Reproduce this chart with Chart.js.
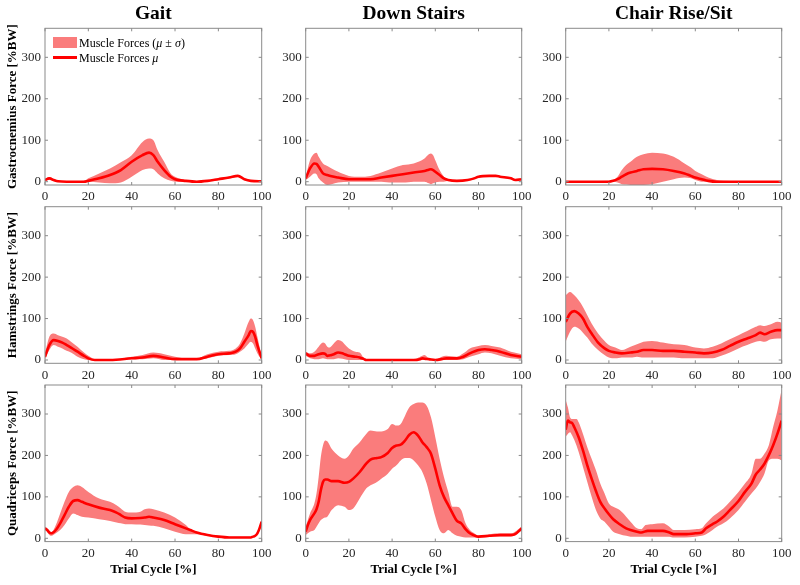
<!DOCTYPE html>
<html><head><meta charset="utf-8">
<script src="https://cdn.jsdelivr.net/npm/chart.js@4.4.1/dist/chart.umd.min.js"></script>
<style>
html,body{margin:0;padding:0;background:#fff;}
#wrap{position:relative;width:800px;height:585px;overflow:hidden;background:#fff;}
#wrap canvas{position:absolute;left:0;top:0;}
.lg{position:absolute;font-family:'Liberation Serif','Times New Roman',serif;font-size:12px;color:#000;white-space:nowrap;line-height:14px;}
.sw{position:absolute;}
</style></head><body>
<div id="wrap">
  <div class="sw" id="lgPatch"></div>
  <div class="sw" id="lgLine"></div>
  <div class="lg" id="lgText1">Muscle Forces (<i>μ</i> ± <i>σ</i>)</div>
  <div class="lg" id="lgText2">Muscle Forces <i>μ</i></div>
</div>
<script>
// ---------- labels ----------
const activities = ['Gait', 'Down Stairs', 'Chair Rise/Sit'];
const muscleLabels = ['Gastrocnemius Force [%BW]', 'Hamstrings Force [%BW]', 'Quadriceps Force [%BW]'];
const xAxisLabel = 'Trial Cycle [%]';
const legendBand = 'Muscle Forces (μ ± σ)';
const legendMean = 'Muscle Forces μ';
const yTickValues = [0, 100, 200, 300];
const xTickValues = [0, 20, 40, 60, 80, 100];

// ---------- Gait / Gastrocnemius ----------
const gaitGastroMeanX = [0,2,4,6,10,15,18,20,25,30,35,40,45,48,50,52,55,58,60,65,70,75,80,85,89,92,95,100];
const gaitGastroMean  = [4,8,4,1,0,0,0,2,8,16,28,48,64,70,64,48,28,12,6,2,0,2,6,10,14,6,2,1];
const gaitGastroBandX = [0,2,4,6,10,15,18,20,25,30,35,40,45,48,50,52,55,58,60,65,70,75,80,85,89,92,95,100];
const gaitGastroUpper = [6,11,7,2,1,1,2,8,20,32,47,64,96,104,100,76,48,20,12,4,1,3,8,12,16,8,3,2];
const gaitGastroLower = [2,5,1,0,-1,-1,-1,0,-2,-4,-2,12,28,32,30,20,8,2,0,0,-1,1,4,8,12,4,1,0];

// ---------- Gait / Hamstrings ----------
const gaitHamMeanX = [0,2,4,6,8,10,12,15,18,20,23,30,40,45,50,55,60,65,70,75,80,85,88,90,92,94,95,96,97,98,100];
const gaitHamMean  = [8,36,48,46,42,36,30,20,10,4,0,0,4,6,10,6,2,2,2,8,14,16,20,28,44,60,70,68,56,36,4];
const gaitHamBandX = [0,2,4,6,8,10,12,15,18,20,23,30,40,45,50,55,60,65,70,75,80,85,88,90,92,94,95,96,97,98,100];
const gaitHamUpper = [16,56,64,60,56,52,44,32,18,10,2,1,8,12,18,14,8,4,4,14,20,22,28,40,64,92,100,96,80,56,8];
const gaitHamLower = [2,24,36,32,28,22,18,8,2,0,-1,-1,2,2,4,0,0,0,0,4,10,12,14,20,28,40,44,40,28,16,0];

// ---------- Gait / Quadriceps ----------
const gaitQuadMeanX = [0,1,2,3,5,7,9,11,13,15,17,20,25,30,33,35,37,40,44,46,48,50,55,60,65,67,70,75,80,85,90,95,96,97,98,99,100];
const gaitQuadMean  = [24,20,14,12,20,36,56,76,90,92,88,82,74,68,62,56,50,48,49,50,52,50,44,34,24,20,14,8,4,2,2,2,4,6,12,24,40];
const gaitQuadBandX = [0,1,2,3,5,7,9,11,13,15,17,20,25,30,33,35,37,40,44,46,48,50,55,60,65,67,70,75,80,85,90,95,96,97,98,99,100];
const gaitQuadUpper = [28,24,18,15,32,60,88,112,124,128,124,112,96,88,80,72,64,62,64,70,72,70,62,50,32,22,16,10,6,4,4,4,6,8,16,30,44];
const gaitQuadLower = [20,16,8,6,12,20,32,48,60,56,52,50,46,42,38,36,34,34,33,32,31,30,24,16,10,10,10,6,2,1,1,1,2,4,8,18,36];

// ---------- Down Stairs / Gastrocnemius ----------
const stairsGastroMeanX = [0,2,4,5,6,8,10,12,15,20,25,30,35,40,45,50,55,57,58,59,60,62,64,66,70,75,78,80,85,88,90,95,97,100];
const stairsGastroMean  = [8,32,44,43,36,20,16,13,10,6,6,6,10,14,18,22,26,29,30,28,24,16,8,4,2,4,8,12,14,14,12,8,4,6];
const stairsGastroBandX = [0,2,4,5,6,8,10,12,15,20,25,30,35,40,45,50,55,57,58,59,60,62,64,66,70,75,78,80,85,88,90,95,97,100];
const stairsGastroUpper = [12,52,68,70,60,44,38,32,24,14,12,14,22,32,40,44,56,66,68,64,52,28,12,6,4,6,10,14,16,16,14,10,6,8];
const stairsGastroLower = [4,12,20,18,8,-2,-8,-6,-2,0,0,0,0,-2,-2,0,0,-4,-6,-4,-2,0,0,2,0,2,6,10,12,12,10,6,2,4];

// ---------- Down Stairs / Hamstrings ----------
const stairsHamMeanX = [0,2,4,6,8,9,10,11,12,13,15,17,18,20,23,25,27,28,30,50,53,54,55,57,60,63,65,70,73,76,80,83,86,90,95,100];
const stairsHamMean  = [16,10,10,14,16,15,10,11,12,14,18,16,14,10,8,6,2,0,0,0,2,4,3,2,0,2,4,4,8,16,24,26,24,20,12,8];
const stairsHamBandX = [0,2,4,6,8,9,10,11,12,13,15,17,18,20,23,25,27,28,30,50,53,54,55,57,60,63,65,70,73,76,80,83,86,90,95,100];
const stairsHamUpper = [20,16,20,32,42,40,32,30,34,40,48,44,38,28,20,18,4,1,1,1,8,10,12,4,1,8,10,8,16,28,34,36,34,30,20,14];
const stairsHamLower = [10,4,2,2,4,3,2,2,2,2,4,3,2,0,0,0,0,-1,-1,-1,0,0,0,0,-1,0,0,0,2,8,14,18,16,10,4,2];

// ---------- Down Stairs / Quadriceps ----------
const stairsQuadMeanX = [0,1,2,4,5,6,7,8,9,10,12,15,18,20,22,25,28,30,33,35,38,40,42,44,46,48,50,52,54,56,58,60,62,64,66,68,70,72,74,76,78,80,85,90,95,97,100];
const stairsQuadMean  = [16,32,44,60,70,88,116,136,142,142,138,138,134,136,144,160,180,190,194,196,206,218,224,226,236,250,256,248,232,220,204,168,128,100,80,60,42,36,22,12,7,4,6,8,8,10,24];
const stairsQuadBandX = [0,2,4,5,6,7,8,9,10,12,15,18,20,22,25,28,30,33,35,38,40,42,44,46,48,50,52,54,56,58,60,62,64,66,68,70,72,74,76,78,80,85,90,95,100];
const stairsQuadUpper = [28,60,84,108,148,196,224,236,234,216,200,192,200,216,232,252,260,258,258,264,276,272,276,296,316,324,328,328,320,292,244,192,148,112,76,76,68,36,20,12,6,10,12,12,28];
const stairsQuadLower = [8,16,20,28,36,44,48,50,52,68,80,76,68,72,96,120,128,136,144,156,168,176,188,194,194,188,176,160,132,92,52,20,12,20,12,6,4,2,2,2,2,4,4,4,18];

// ---------- Chair / Gastrocnemius ----------
const chairGastroMeanX = [0,10,20,22,24,26,28,30,33,36,40,45,50,55,58,60,63,66,70,73,80,90,100];
const chairGastroMean  = [0,0,0,2,6,12,18,22,26,30,31,30,26,20,14,10,6,2,0,0,0,0,0];
const chairGastroBandX = [0,10,20,22,24,26,28,30,33,36,40,45,50,55,58,60,63,66,70,73,80,90,100];
const chairGastroUpper = [1,1,2,4,12,28,40,48,60,66,70,68,60,44,34,26,18,10,4,2,1,1,1];
const chairGastroLower = [-1,-1,-1,0,-2,-6,-7,-8,-8,-8,-6,0,6,10,8,4,0,0,-1,-1,-1,-1,-1];

// ---------- Chair / Hamstrings ----------
const chairHamMeanX = [0,2,4,6,8,10,12,15,18,20,23,26,30,33,36,40,45,50,55,60,64,68,72,76,80,84,88,90,92,95,98,100];
const chairHamMean  = [92,112,118,112,100,80,64,42,28,22,18,16,18,20,24,24,22,22,20,18,16,18,24,34,44,52,60,66,62,68,72,72];
const chairHamBandX = [0,2,4,6,8,10,12,15,18,20,23,26,30,33,36,40,45,50,55,60,64,68,72,76,80,84,88,90,92,95,98,100];
const chairHamUpper = [156,164,156,144,128,108,88,64,46,36,30,24,32,38,44,46,42,38,36,30,28,32,40,50,60,70,80,84,82,86,92,90];
const chairHamLower = [44,68,80,76,66,54,40,24,12,6,4,6,6,8,6,6,6,6,4,4,4,4,10,18,28,36,44,46,44,50,52,52];

// ---------- Chair / Quadriceps ----------
const chairQuadMeanX = [0,1,2,3,4,6,8,10,12,14,16,18,20,22,25,28,30,33,35,38,40,45,48,50,53,56,60,63,65,68,70,73,76,80,83,86,88,90,92,94,96,98,100];
const chairQuadMean  = [262,284,280,278,268,244,212,176,144,114,88,72,58,46,34,24,20,16,14,18,18,18,14,10,10,10,12,14,24,34,40,52,68,90,112,132,154,166,180,200,224,252,284];
const chairQuadBandX = [0,1,2,3,5,6,8,10,12,14,16,18,20,22,25,28,30,33,35,37,40,45,48,50,55,60,63,65,68,70,73,76,80,83,86,88,90,92,94,96,98,100];
const chairQuadUpper = [334,316,292,288,288,280,252,220,192,164,132,108,84,76,68,52,40,24,22,32,34,36,28,20,20,22,24,36,52,60,72,88,112,132,156,192,192,204,224,268,308,360];
const chairQuadLower = [245,252,256,248,224,208,172,136,100,68,48,40,28,16,10,6,4,4,4,4,4,4,4,2,2,4,6,10,20,28,36,48,68,88,108,120,136,156,188,192,192,188];

// ---------- panels (row-major) ----------
const panels = [
  [gaitGastroMeanX, gaitGastroMean, gaitGastroBandX, gaitGastroUpper, gaitGastroLower],
  [stairsGastroMeanX, stairsGastroMean, stairsGastroBandX, stairsGastroUpper, stairsGastroLower],
  [chairGastroMeanX, chairGastroMean, chairGastroBandX, chairGastroUpper, chairGastroLower],
  [gaitHamMeanX, gaitHamMean, gaitHamBandX, gaitHamUpper, gaitHamLower],
  [stairsHamMeanX, stairsHamMean, stairsHamBandX, stairsHamUpper, stairsHamLower],
  [chairHamMeanX, chairHamMean, chairHamBandX, chairHamUpper, chairHamLower],
  [gaitQuadMeanX, gaitQuadMean, gaitQuadBandX, gaitQuadUpper, gaitQuadLower],
  [stairsQuadMeanX, stairsQuadMean, stairsQuadBandX, stairsQuadUpper, stairsQuadLower],
  [chairQuadMeanX, chairQuadMean, chairQuadBandX, chairQuadUpper, chairQuadLower]
];

// ---------- layout / style ----------
const W = 800, H = 585;
const colLeft = [45, 305.7, 565.7];
const colRight = [261.7, 521.7, 781.7];
const rowTop = [28.3, 206.7, 385];
const rowBottom = [185, 363.3, 541.6];
const FONT = "'Liberation Serif','Times New Roman',serif";
const bandColor = 'rgb(250,124,124)';
const lineColor = '#ff0000';
const frameColor = '#8a8a8a';
const tickColor = '#262626';

Chart.defaults.font.family = FONT;
Chart.defaults.animation = false;

const framePlugin = {
  id: 'frameTicks',
  afterDraw(chart) {
    const {ctx, chartArea: a, scales: {x, y}} = chart;
    ctx.save();
    ctx.strokeStyle = frameColor;
    ctx.lineWidth = 1;
    ctx.strokeRect(a.left, a.top, a.right - a.left, a.bottom - a.top);
    const tl = 3;
    ctx.beginPath();
    x.ticks.forEach(t => {
      const px = x.getPixelForValue(t.value);
      ctx.moveTo(px, a.bottom); ctx.lineTo(px, a.bottom - tl);
      ctx.moveTo(px, a.top); ctx.lineTo(px, a.top + tl);
    });
    y.ticks.forEach(t => {
      const py = y.getPixelForValue(t.value);
      ctx.moveTo(a.left, py); ctx.lineTo(a.left + tl, py);
      ctx.moveTo(a.right, py); ctx.lineTo(a.right - tl, py);
    });
    ctx.stroke();
    ctx.restore();
  }
};

const wrap = document.getElementById('wrap');
const toPts = (xs, ys) => xs.map((v, i) => ({x: v, y: ys[i]}));

panels.forEach((p, idx) => {
  const r = Math.floor(idx / 3), c = idx % 3;
  const [mx, m, bx, up, lo] = p;
  const yw = c === 0 ? 45 : 30;
  const xh = r === 2 ? 38 : 20;
  const titleH = r === 0 ? 28.3 : 0;
  const cv = document.createElement('canvas');
  cv.width = W; cv.height = H;
  cv.style.width = W + 'px'; cv.style.height = H + 'px';
  wrap.insertBefore(cv, wrap.firstChild);
  new Chart(cv, {
    type: 'line',
    data: {
      datasets: [
        {label: legendBand, data: toPts(bx, up), borderWidth: 0, pointRadius: 0,
         backgroundColor: bandColor, borderColor: bandColor, fill: '+1', cubicInterpolationMode: 'monotone', order: 2},
        {label: 'lower', data: toPts(bx, lo), borderWidth: 0, pointRadius: 0,
         backgroundColor: bandColor, borderColor: bandColor, fill: false, cubicInterpolationMode: 'monotone', order: 2},
        {label: legendMean, data: toPts(mx, m), borderWidth: 2.6, pointRadius: 0,
         borderColor: lineColor, fill: false, cubicInterpolationMode: 'monotone', order: 1}
      ]
    },
    options: {
      responsive: false,
      devicePixelRatio: 1,
      events: [],
      layout: {padding: {left: colLeft[c] - yw, right: W - colRight[c], top: rowTop[r] - titleH, bottom: H - rowBottom[r] - xh}},
      plugins: {
        legend: {display: false},
        tooltip: {enabled: false},
        title: {display: r === 0, text: activities[c], fullSize: false,
                font: {size: 19.5, weight: 'bold', family: FONT, lineHeight: 1.2},
                color: '#000', padding: {top: 2.5, bottom: 2.4}}
      },
      scales: {
        x: {type: 'linear', min: 0, max: 100,
            afterBuildTicks: s => { s.ticks = xTickValues.map(v => ({value: v})); },
            afterFit: s => { s.height = xh; },
            grid: {display: false, drawTicks: false}, border: {display: false},
            ticks: {color: tickColor, font: {size: 13, family: FONT}, padding: 4, maxRotation: 0, autoSkip: false},
            title: {display: r === 2, text: xAxisLabel, color: '#000',
                    font: {size: 13, weight: 'bold', family: FONT, lineHeight: 1.2}, padding: {top: 0, bottom: 2}}},
        y: {type: 'linear', min: -8, max: 370,
            afterBuildTicks: s => { s.ticks = yTickValues.map(v => ({value: v})); },
            afterFit: s => { s.width = yw; },
            grid: {display: false, drawTicks: false}, border: {display: false},
            ticks: {color: tickColor, font: {size: 13, family: FONT}, padding: 4},
            title: {display: c === 0, text: muscleLabels[r], color: '#000',
                    font: {size: 13, weight: 'bold', family: FONT, lineHeight: 1.2}, padding: {top: 5, bottom: 0}}}
      }
    },
    plugins: [framePlugin]
  });
});

// legend (inside first panel)
const patch = document.getElementById('lgPatch');
Object.assign(patch.style, {left: '53px', top: '37px', width: '24px', height: '11px', background: bandColor});
const ln = document.getElementById('lgLine');
Object.assign(ln.style, {left: '53px', top: '56px', width: '24px', height: '2.6px', background: lineColor});
Object.assign(document.getElementById('lgText1').style, {left: '79px', top: '36px'});
Object.assign(document.getElementById('lgText2').style, {left: '79px', top: '50.5px'});
</script>
</body></html>
